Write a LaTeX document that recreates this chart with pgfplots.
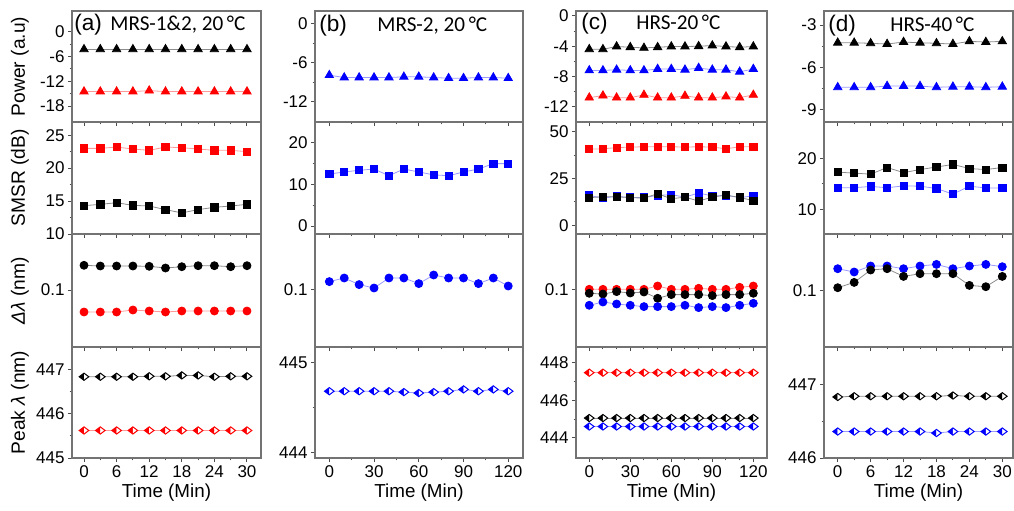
\documentclass[border=0pt]{standalone}
\usepackage{fontspec}
\setmainfont{Liberation Sans}
\newfontfamily\calfont{Carlito}
\usepackage{pgfplots}
\pgfplotsset{compat=1.18}
\definecolor{rd}{RGB}{255,0,0}
\definecolor{bl}{RGB}{0,0,255}
\begin{document}
\begin{tikzpicture}
\useasboundingbox (0,0) rectangle (507pt,255pt);
\pgfplotsset{
  panel/.style={scale only axis, anchor=south west,
    axis line style={black!55, line width=0.6pt},
    tick style={black!70, line width=0.5pt},
    tick align=outside, xtick pos=bottom, ytick pos=left,
    major tick length=2pt, minor tick length=1.2pt,
    minor y tick num=1,
    /pgf/number format/assume math mode=true,
    ticklabel style={font=\fontsize{8.5}{9}\selectfont},
    yticklabel style={inner xsep=1.5pt},
    xticklabel style={inner ysep=1.5pt},
  },
  nolab/.style={xticklabels={}},
  colA/.style={panel, xmin=-2.21, xmax=32.58, xtick={0,6,...,30}, minor x tick num=1, width=94.5pt},
  colB/.style={panel, xmin=-9.6, xmax=129.9, xtick={0,30,...,120}, minor x tick num=1, width=104pt},
  colC/.style={panel, xmin=-9.7, xmax=130, xtick={0,30,...,120}, minor x tick num=2, width=95.5pt},
  colD/.style={panel, xmin=-2.5, xmax=31.95, xtick={0,6,...,30}, minor x tick num=1, width=94.5pt},
  r1/.style={height=55.5pt},
  r2/.style={height=56pt},
  r3/.style={height=56.5pt, ytick={0.1}, minor y tick num=0},
  r4/.style={height=55.5pt},
  sk/.style={color=black!45, line width=0.4pt, mark options={draw=black, fill=black, solid}},
  sr/.style={color=rd!40, line width=0.4pt, mark options={draw=rd, fill=rd, solid}},
  sb/.style={color=bl!40, line width=0.4pt, mark options={draw=bl, fill=bl, solid}},
  tri/.style={mark=triangle*, mark size=2.4pt},
  sq/.style={mark=square*, mark size=1.8pt},
  ci/.style={mark=*, mark size=2pt},
  hd/.style={mark=halfdiamond*, mark size=2.4pt, every mark/.append style={mark color=white, rotate=-90, line width=0.5pt}},
}
% ---------------- column (a) ----------------
\begin{axis}[colA, r1, nolab, at={(36pt,194pt)}, ymin=-21.86, ymax=5.0, ytick={0,-6,-12,-18}]
\addplot[sk, tri] coordinates {(0,-4.27) (3,-4.27) (6,-4.27) (9,-4.27) (12,-4.27) (15,-4.27) (18,-4.27) (21,-4.27) (24,-4.27) (27,-4.27) (30,-4.27)};
\addplot[sr, tri] coordinates {(0,-14.5) (3,-14.5) (6,-14.5) (9,-14.5) (12,-14.27) (15,-14.5) (18,-14.5) (21,-14.5) (24,-14.5) (27,-14.5) (30,-14.5)};
\end{axis}
\begin{axis}[colA, r2, nolab, at={(36pt,138pt)}, ymin=10, ymax=27, ytick={10,15,20,25}]
\addplot[sr, sq] coordinates {(0,23.0) (3,23.0) (6,23.2) (9,22.9) (12,22.7) (15,23.2) (18,23.1) (21,22.9) (24,22.7) (27,22.7) (30,22.5)};
\addplot[sk, sq] coordinates {(0,14.3) (3,14.5) (6,14.75) (9,14.35) (12,14.25) (15,13.7) (18,13.2) (21,13.7) (24,14.05) (27,14.25) (30,14.5)};
\end{axis}
\begin{axis}[colA, r3, nolab, at={(36pt,81.5pt)}, ymin=0.043, ymax=0.156]
\addplot[sk, ci] coordinates {(0,0.1247) (3,0.124) (6,0.124) (9,0.124) (12,0.1237) (15,0.122) (18,0.1233) (21,0.1243) (24,0.1243) (27,0.1233) (30,0.1243)};
\addplot[sr, ci] coordinates {(0,0.078) (3,0.078) (6,0.078) (9,0.080) (12,0.079) (15,0.078) (18,0.079) (21,0.079) (24,0.079) (27,0.079) (30,0.079)};
\end{axis}
\begin{axis}[colA, r4, at={(36pt,26pt)}, ymin=445, ymax=447.5, ytick={445,446,447}]
\addplot[sk, hd] coordinates {(0,446.83) (3,446.83) (6,446.83) (9,446.83) (12,446.84) (15,446.84) (18,446.86) (21,446.86) (24,446.83) (27,446.84) (30,446.84)};
\addplot[sr, hd] coordinates {(0,445.62) (3,445.62) (6,445.62) (9,445.62) (12,445.62) (15,445.62) (18,445.62) (21,445.62) (24,445.62) (27,445.62) (30,445.62)};
\end{axis}
% ---------------- column (b) ----------------
\begin{axis}[colB, r1, nolab, at={(157.5pt,194pt)}, ymin=-15.1, ymax=2.0, ytick={0,-6,-12}]
\addplot[sb, tri] coordinates {(0,-7.89) (10,-8.25) (20,-8.25) (30,-8.25) (40,-8.25) (50,-8.14) (60,-8.14) (70,-8.25) (80,-8.35) (90,-8.35) (100,-8.25) (110,-8.25) (120,-8.35)};
\end{axis}
\begin{axis}[colB, r2, nolab, at={(157.5pt,138pt)}, ymin=-1.9, ymax=25, ytick={0,10,20}]
\addplot[sb, sq] coordinates {(0,12.5) (10,13.0) (20,13.4) (30,13.7) (40,12.1) (50,13.7) (60,13.0) (70,12.3) (80,12.1) (90,13.0) (100,13.7) (110,15.0) (120,15.0)};
\end{axis}
\begin{axis}[colB, r3, nolab, at={(157.5pt,81.5pt)}, ymin=0.0423, ymax=0.1553]
\addplot[sb, ci] coordinates {(0,0.1077) (10,0.1113) (20,0.1047) (30,0.1013) (40,0.1113) (50,0.1113) (60,0.1057) (70,0.1143) (80,0.1113) (90,0.1113) (100,0.1057) (110,0.1113) (120,0.1033)};
\end{axis}
\begin{axis}[colB, r4, at={(157.5pt,26pt)}, ymin=443.94, ymax=445.17, ytick={444,445}]
\addplot[sb, hd] coordinates {(0,444.68) (10,444.68) (20,444.68) (30,444.68) (40,444.68) (50,444.67) (60,444.66) (70,444.67) (80,444.68) (90,444.70) (100,444.68) (110,444.70) (120,444.68)};
\end{axis}
% ---------------- column (c) ----------------
\begin{axis}[colC, r1, nolab, at={(288pt,194pt)}, ymin=-14.02, ymax=0.66, ytick={0,-4,-8,-12}]
\addplot[sk, tri] coordinates {(0,-4.4) (10,-4.4) (20,-4.04) (30,-4.13) (40,-4.22) (50,-4.13) (60,-4.04) (70,-4.04) (80,-4.0) (90,-3.91) (100,-4.04) (110,-4.13) (120,-4.04)};
\addplot[sb, tri] coordinates {(0,-7.2) (10,-7.2) (20,-7.11) (30,-7.2) (40,-7.2) (50,-7.02) (60,-7.02) (70,-7.11) (80,-6.88) (90,-7.11) (100,-7.11) (110,-7.38) (120,-7.02)};
\addplot[sr, tri] coordinates {(0,-10.8) (10,-10.53) (20,-10.8) (30,-10.8) (40,-10.44) (50,-10.8) (60,-10.8) (70,-10.57) (80,-10.8) (90,-10.8) (100,-10.66) (110,-10.8) (120,-10.44)};
\end{axis}
\begin{axis}[colC, r2, nolab, at={(288pt,138pt)}, ymin=-4.6, ymax=55.2, ytick={0,25,50}]
\addplot[sr, sq] coordinates {(0,40.7) (10,40.9) (20,41.5) (30,41.8) (40,42.0) (50,42.0) (60,42.0) (70,41.8) (80,42.0) (90,41.8) (100,40.9) (110,42.0) (120,42.0)};
\addplot[sb, sq] coordinates {(0,16.0) (10,14.6) (20,15.5) (30,14.9) (40,14.9) (50,16.0) (60,16.4) (70,15.1) (80,17.3) (90,15.7) (100,16.0) (110,14.9) (120,15.7)};
\addplot[sk, sq] coordinates {(0,14.8) (10,15.3) (20,15.3) (30,14.8) (40,14.6) (50,16.9) (60,14.2) (70,15.1) (80,13.0) (90,15.1) (100,16.2) (110,14.9) (120,13.2)};
\end{axis}
\begin{axis}[colC, r3, nolab, at={(288pt,81.5pt)}, ymin=0.0423, ymax=0.1553]
\addplot[sr, ci] coordinates {(0,0.1) (10,0.1) (20,0.1) (30,0.1) (40,0.1) (50,0.1033) (60,0.1) (70,0.1) (80,0.101) (90,0.1) (100,0.1) (110,0.102) (120,0.1033)};
\addplot[sk, ci] coordinates {(0,0.096) (10,0.0953) (20,0.0977) (30,0.0963) (40,0.0973) (50,0.091) (60,0.0947) (70,0.0947) (80,0.0947) (90,0.0937) (100,0.0947) (110,0.0947) (120,0.096)};
\addplot[sb, ci] coordinates {(0,0.084) (10,0.0873) (20,0.0853) (30,0.084) (40,0.0827) (50,0.0827) (60,0.0827) (70,0.084) (80,0.0817) (90,0.0827) (100,0.0817) (110,0.084) (120,0.086)};
\end{axis}
\begin{axis}[colC, r4, at={(288pt,26pt)}, ymin=442.92, ymax=448.84, ytick={444,446,448}]
\addplot[sr, hd] coordinates {(0,447.47) (10,447.47) (20,447.47) (30,447.47) (40,447.47) (50,447.47) (60,447.47) (70,447.47) (80,447.47) (90,447.47) (100,447.47) (110,447.47) (120,447.47)};
\addplot[sk, hd] coordinates {(0,445.05) (10,445.05) (20,445.05) (30,445.05) (40,445.05) (50,445.05) (60,445.05) (70,445.05) (80,445.05) (90,445.05) (100,445.05) (110,445.05) (120,445.05)};
\addplot[sb, hd] coordinates {(0,444.6) (10,444.6) (20,444.6) (30,444.6) (40,444.6) (50,444.6) (60,444.6) (70,444.6) (80,444.6) (90,444.6) (100,444.6) (110,444.6) (120,444.6)};
\end{axis}
% ---------------- column (d) ----------------
\begin{axis}[colD, r1, nolab, at={(412pt,194pt)}, ymin=-9.9, ymax=-2.0, ytick={-3,-6,-9}]
\addplot[sk, tri] coordinates {(0,-4.26) (3,-4.26) (6,-4.30) (9,-4.35) (12,-4.21) (15,-4.26) (18,-4.30) (21,-4.35) (24,-4.16) (27,-4.21) (30,-4.16)};
\addplot[sb, tri] coordinates {(0,-7.43) (3,-7.43) (6,-7.43) (9,-7.34) (12,-7.34) (15,-7.34) (18,-7.43) (21,-7.39) (24,-7.39) (27,-7.43) (30,-7.39)};
\end{axis}
\begin{axis}[colD, r2, nolab, at={(412pt,138pt)}, ymin=5.2, ymax=27.1, ytick={10,20}]
\addplot[sk, sq] coordinates {(0,17.3) (3,17.1) (6,16.9) (9,18.2) (12,17.2) (15,17.8) (18,18.3) (21,18.8) (24,18.0) (27,17.8) (30,18.2)};
\addplot[sb, sq] coordinates {(0,14.25) (3,14.25) (6,14.5) (9,14.25) (12,14.6) (15,14.55) (18,14.1) (21,13.0) (24,14.55) (27,14.2) (30,14.2)};
\end{axis}
\begin{axis}[colD, r3, nolab, at={(412pt,81.5pt)}, ymin=0.0437, ymax=0.1567]
\addplot[sb, ci] coordinates {(0,0.122) (3,0.1187) (6,0.1247) (9,0.1247) (12,0.122) (15,0.1247) (18,0.1263) (21,0.122) (24,0.1247) (27,0.1263) (30,0.124)};
\addplot[sk, ci] coordinates {(0,0.103) (3,0.1083) (6,0.1207) (9,0.122) (12,0.1143) (15,0.117) (18,0.117) (21,0.117) (24,0.1053) (27,0.104) (30,0.1143)};
\end{axis}
\begin{axis}[colD, r4, at={(412pt,26pt)}, ymin=446.0, ymax=447.51, ytick={446,447}]
\addplot[sk, hd] coordinates {(0,446.83) (3,446.84) (6,446.84) (9,446.84) (12,446.84) (15,446.84) (18,446.84) (21,446.85) (24,446.84) (27,446.84) (30,446.84)};
\addplot[sb, hd] coordinates {(0,446.36) (3,446.36) (6,446.36) (9,446.36) (12,446.36) (15,446.36) (18,446.34) (21,446.36) (24,446.36) (27,446.36) (30,446.36)};
\end{axis}
% ---------------- texts ----------------
\begin{scope}[every node/.style={inner sep=0pt}]
\node[anchor=base west, font=\fontsize{11.3}{12}\selectfont] at (37pt,239.6pt) {(a)};
\node[anchor=base west, font=\calfont\fontsize{10.6}{12}\selectfont] at (55pt,239.6pt) {MRS-1\&2, 20\,°C};
\node[anchor=base west, font=\fontsize{11.3}{12}\selectfont] at (159.5pt,239.4pt) {(b)};
\node[anchor=base west, font=\calfont\fontsize{10.6}{12}\selectfont] at (188.5pt,239.4pt) {MRS-2, 20\,°C};
\node[anchor=base west, font=\fontsize{11.3}{12}\selectfont] at (290.5pt,240pt) {(c)};
\node[anchor=base west, font=\calfont\fontsize{10.6}{12}\selectfont] at (318pt,240pt) {HRS-20\,°C};
\node[anchor=base west, font=\fontsize{11.3}{12}\selectfont] at (414pt,239.4pt) {(d)};
\node[anchor=base west, font=\calfont\fontsize{10.6}{12}\selectfont] at (445pt,239.4pt) {HRS-40\,°C};
\begin{scope}[every node/.append style={rotate=90, anchor=base, font=\fontsize{9.6}{11}\selectfont}]
\node at (12.5pt,221.75pt) {Power (a.u)};
\node at (12.5pt,166pt) {SMSR (dB)};
\node at (12.5pt,109.75pt) {{\itshape Δλ} (nm)};
\node at (12.5pt,53.75pt) {Peak {\itshape λ} (nm)};
\end{scope}
\begin{scope}[every node/.append style={anchor=base, font=\fontsize{9.4}{11}\selectfont}]
\node at (83.25pt,6.5pt) {Time (Min)};
\node at (209.5pt,6.5pt) {Time (Min)};
\node at (335.75pt,6.5pt) {Time (Min)};
\node at (459.25pt,6.5pt) {Time (Min)};
\end{scope}
\end{scope}
\end{tikzpicture}
\end{document}
